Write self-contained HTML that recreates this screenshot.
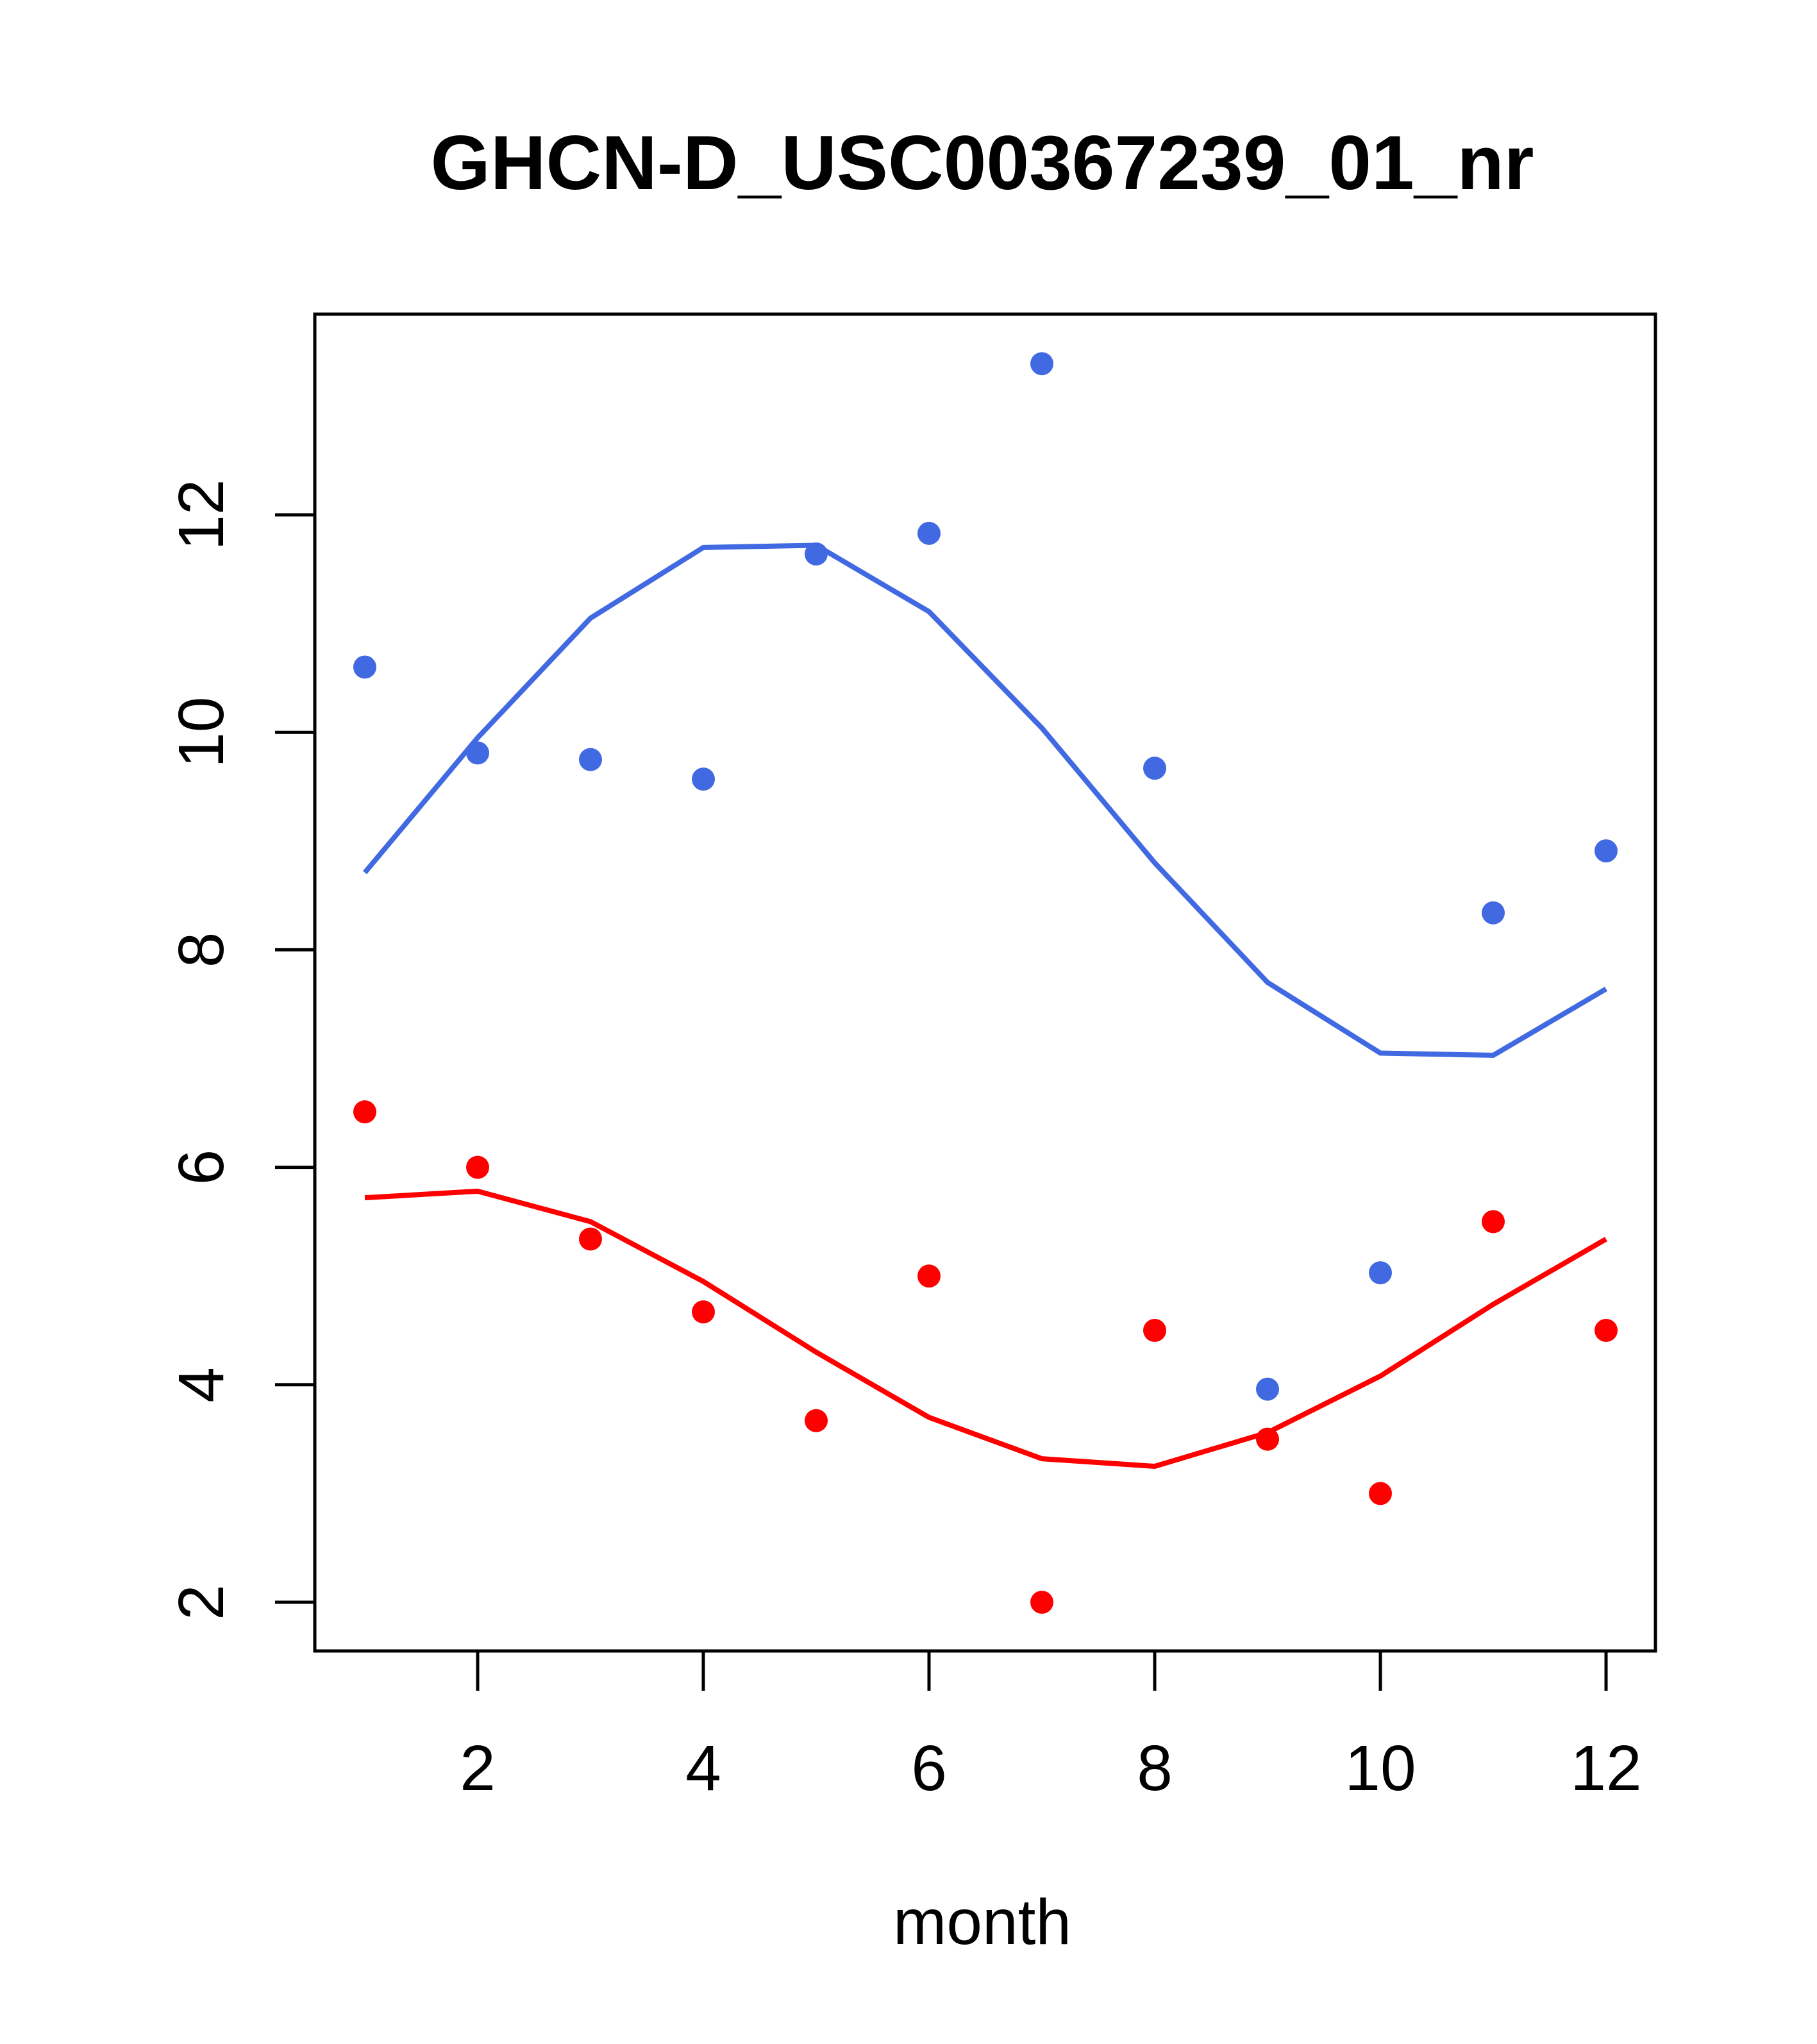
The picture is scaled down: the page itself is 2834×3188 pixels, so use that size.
<!DOCTYPE html>
<html><head><meta charset="utf-8"><style>
html,body{margin:0;padding:0;background:#fff}
svg{display:block}
text{font-family:"Liberation Sans",Arial,sans-serif;fill:#000}
</style></head><body>
<svg id="s" width="2834" height="3188" viewBox="0 0 2834 3188" xmlns="http://www.w3.org/2000/svg">
<rect width="2834" height="3188" fill="#fff"/>
<text x="1532" y="295" font-size="120" font-weight="bold" text-anchor="middle">GHCN-D_USC00367239_01_nr</text>
<rect x="491" y="490" width="2091" height="2085" fill="none" stroke="#000" stroke-width="5"/>
<g id="g"></g>
<text x="1532" y="3032" font-size="100" text-anchor="middle">month</text>
</svg>
<script>
var X=function(m){return 569+176*(m-1)},Y=function(v){return 803+(12-v)*169.6};
var s='';
[2,4,6,8,10,12].forEach(function(m){var x=X(m);s+='<line x1="'+x+'" y1="2575" x2="'+x+'" y2="2637" stroke="#000" stroke-width="5"/>';
s+='<text x="'+x+'" y="2792" font-size="100" text-anchor="middle">'+m+'</text>';});
[2,4,6,8,10,12].forEach(function(v){var y=Y(v);s+='<line x1="429" y1="'+y+'" x2="491" y2="'+y+'" stroke="#000" stroke-width="5"/>';
s+='<text transform="translate(348,'+y+') rotate(-90)" font-size="100" text-anchor="middle">'+v+'</text>';});
var bp=[10.6,9.81,9.75,9.57,11.64,11.83,13.39,9.67,3.96,5.03,8.34,8.91];
var bl=[8.71,9.95,11.05,11.70,11.72,11.11,10.04,8.80,7.70,7.05,7.03,7.64];
var rp=[6.51,6.0,5.34,4.67,3.67,5.0,2,4.5,3.5,3.0,5.5,4.5];
var rl=[5.72,5.78,5.5,4.95,4.30,3.70,3.32,3.25,3.56,4.08,4.74,5.34];
function line(a,c){return '<polyline fill="none" stroke="'+c+'" stroke-width="8" stroke-linejoin="round" points="'+a.map(function(v,i){return X(i+1)+','+Y(v)}).join(' ')+'"/>';}
function pts(a,c){return a.map(function(v,i){return '<circle cx="'+X(i+1)+'" cy="'+Y(v)+'" r="18" fill="'+c+'"/>'}).join('');}
s+=line(bl,'#4169E1')+line(rl,'#FF0000')+pts(bp,'#4169E1')+pts(rp,'#FF0000');
document.getElementById('g').innerHTML=s;
</script>
</body></html>
